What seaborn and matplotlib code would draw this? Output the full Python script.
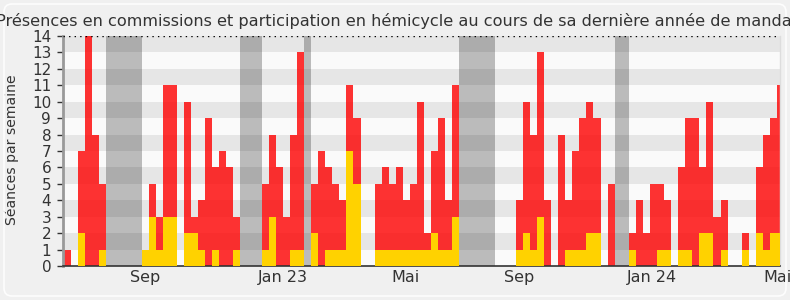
import numpy as np
import pandas as pd
import matplotlib
matplotlib.use("Agg")
import matplotlib.pyplot as plt
import seaborn as sns
from matplotlib.patches import FancyBboxPatch

title = "Présences en commissions et participation en hémicycle au cours de sa dernière année de mandat"
ylabel = "Séances par semaine"

# weekly totals (red bar height)
total = [1, 0, 7, 14, 8, 5, 0, 0, 0, 0,
         0, 1, 5, 3, 11, 11, 0, 10, 3, 4,
         9, 6, 7, 6, 3, 0, 0, 0, 5, 8,
         6, 3, 8, 13, 0, 5, 7, 6, 5, 4,
         11, 9, 0, 0, 5, 6, 5, 6, 4, 5,
         10, 2, 7, 9, 4, 11, 0, 0, 0, 0,
         0, 0, 0, 0, 4, 10, 8, 13, 4, 0,
         8, 4, 7, 9, 10, 9, 0, 5, 0, 0,
         2, 4, 2, 5, 5, 4, 0, 6, 9, 9,
         6, 10, 3, 4, 0, 0, 2, 0, 6, 8,
         9, 11]
# weekly yellow part
yellow = [0, 0, 2, 0, 0, 1, 0, 0, 0, 0,
          0, 1, 3, 1, 3, 3, 0, 2, 2, 1,
          0, 1, 0, 0, 1, 0, 0, 0, 1, 3,
          0, 0, 1, 1, 0, 2, 0, 1, 1, 1,
          7, 5, 0, 0, 1, 1, 1, 1, 1, 1,
          1, 1, 2, 1, 1, 3, 0, 0, 0, 0,
          0, 0, 0, 0, 1, 2, 1, 3, 0, 0,
          0, 1, 1, 1, 2, 2, 0, 0, 0, 0,
          1, 0, 0, 0, 1, 1, 0, 1, 1, 0,
          2, 2, 0, 1, 0, 0, 1, 0, 2, 1,
          2, 2]
# holiday weeks (start index, end index exclusive)
vacations = [(6, 11), (25, 28), (34, 35), (56, 61), (78, 80)]
tick_pos = [10.93, 30.48, 47.94, 63.92, 82.83, 100.6]
tick_labels = ["Sep", "Jan 23", "Mai", "Sep", "Jan 24", "Mai"]

weeks = np.arange(len(total))
df = pd.DataFrame({"week": weeks, "total": total, "yellow": yellow})

sns.set_theme(style="white")
plt.rcParams["font.family"] = ["DejaVu Sans"]

fig = plt.figure(figsize=(7.9, 3.0), dpi=100)
fig.patch.set_facecolor("#F0F0F0")
fig.patches.append(FancyBboxPatch((4, 4), 782, 292, boxstyle="round,pad=0,rounding_size=8",
                                  transform=None, facecolor="none", edgecolor="#FDFDFD",
                                  linewidth=1.2, figure=fig))
ax = fig.add_axes([63 / 790, 1 - 266 / 300, (780 - 63) / 790, (266 - 36) / 300])
ax.set_facecolor("#FAFAFA")

for k in range(1, 14, 2):
    ax.axhspan(k, k + 1, color="#E6E6E6", lw=0, zorder=0)

for s, e in vacations:
    ax.axvspan(s - 0.5, e - 0.5, color="black", alpha=0.25, lw=0, zorder=1)

sns.barplot(data=df, x="week", y="total", native_scale=True, color="#FF0000", alpha=0.8,
            saturation=1, width=1, errorbar=None, linewidth=0, ax=ax, zorder=2)
sns.barplot(data=df, x="week", y="yellow", native_scale=True, color="#FFD200",
            saturation=1, width=1, errorbar=None, linewidth=0, ax=ax, zorder=3)

ax.axhline(14, ls=(0, (1, 3)), color="black", lw=1, zorder=4)

ax.set_xlim(-0.64, 100.92)
ax.set_ylim(0, 14)
ax.set_yticks(range(0, 15))
ax.set_yticklabels([str(v) for v in range(15)])
ax.set_xticks(tick_pos)
ax.set_xticklabels(tick_labels)
ax.tick_params(axis="y", which="major", length=4.5, width=1, color="#333333",
               labelsize=11, labelcolor="#333333", pad=4, left=True)
ax.tick_params(axis="x", length=0, labelsize=11.5, labelcolor="#333333", pad=3)
ax.set_xlabel("")
ax.set_ylabel(ylabel, fontsize=10.1, color="#333333")
ax.yaxis.set_label_coords(-0.0614, 0.504)

ax.spines["top"].set_visible(False)
ax.spines["left"].set_color("#999999")
ax.spines["left"].set_linewidth(2)
ax.spines["bottom"].set_color("#333333")
ax.spines["bottom"].set_linewidth(1.2)
ax.spines["right"].set_color("#DDDDDD")
ax.spines["right"].set_linewidth(1)

fig.text(0.5025, 0.912, title, ha="center", va="baseline", fontsize=11.65, color="#333333")

fig.savefig("out.png", dpi=100, facecolor=fig.get_facecolor())
